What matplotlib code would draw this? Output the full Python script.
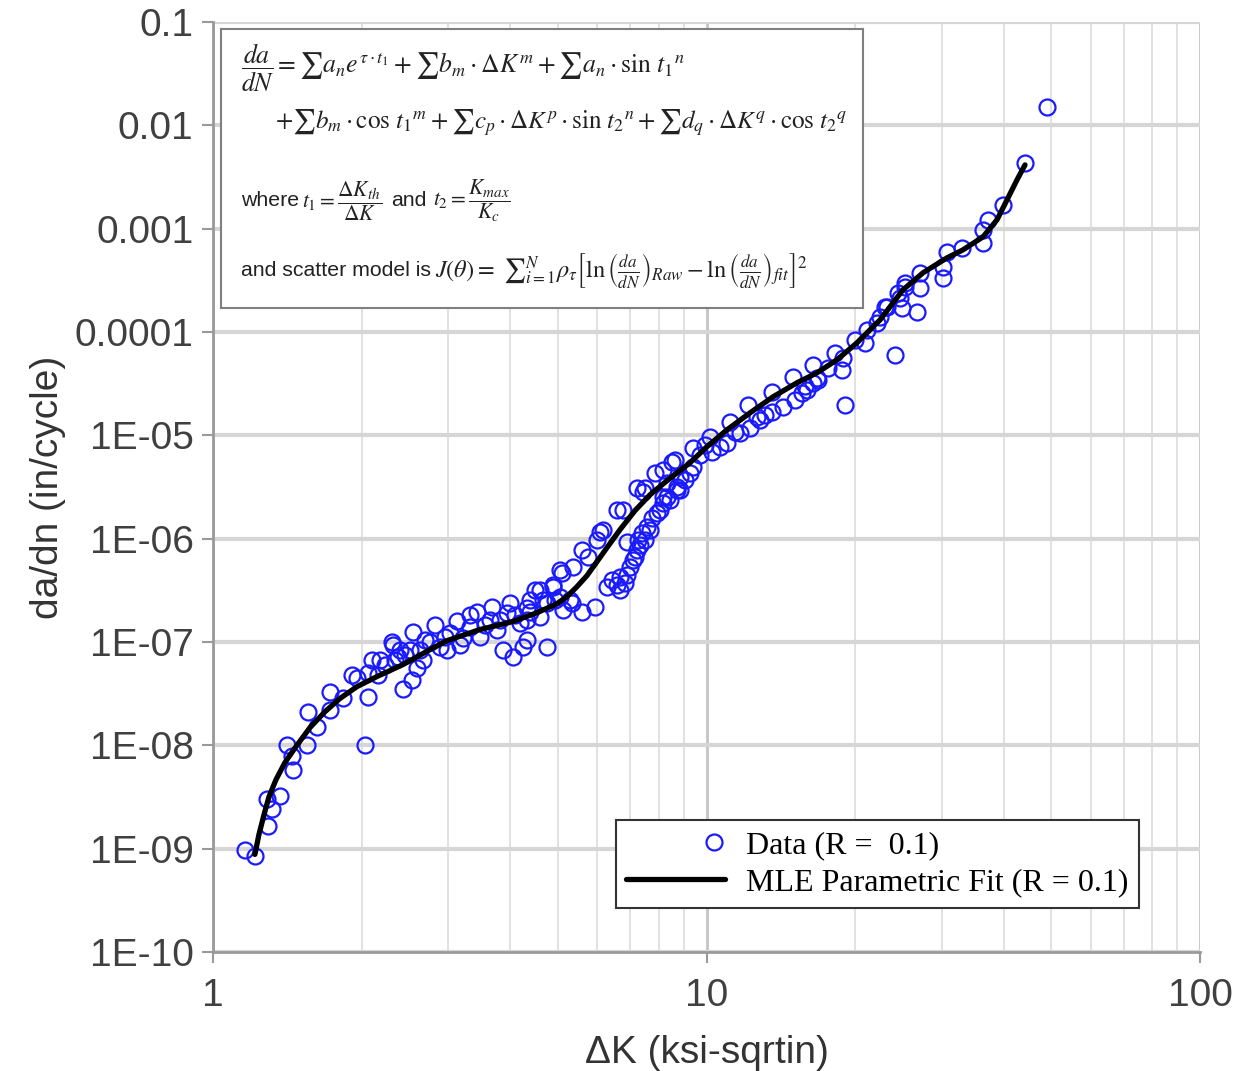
import matplotlib
matplotlib.use('Agg')
import matplotlib.pyplot as plt
from matplotlib.ticker import LogLocator, NullLocator, FixedLocator
from matplotlib.legend_handler import HandlerLine2D
from matplotlib.lines import Line2D

plt.rcParams['font.family'] = ['Liberation Sans', 'DejaVu Sans']
plt.rcParams['mathtext.fontset'] = 'stix'

# measured crack growth data (delta K in ksi-sqrtin, da/dN in in/cycle)
dk = [1.161, 1.216, 1.286, 1.367, 1.317, 1.292, 1.412, 1.550, 1.453, 1.446,
      1.557, 1.624, 1.726, 1.726, 1.834, 1.912, 1.958, 2.032, 2.061, 2.100,
      2.061, 2.159, 2.316, 2.427, 2.531, 2.590, 2.371, 2.507, 2.306, 2.543,
      2.818, 3.122, 3.428, 3.675, 3.998, 4.492, 4.887, 5.095, 3.869, 4.054,
      4.248, 4.328, 4.751, 2.393, 2.664, 2.979, 3.211, 3.475, 3.762, 4.189,
      4.598, 5.119, 5.339, 2.753, 3.021, 3.317, 3.641, 3.942, 4.328, 4.663,
      2.627, 2.884, 2.179, 2.689, 2.952, 3.166, 3.557, 3.815, 4.093, 4.389,
      4.932, 3.317, 2.449, 2.338, 2.231, 4.328, 4.598, 4.887, 5.048, 5.363,
      5.593, 5.752, 5.999, 6.169, 6.585, 6.772, 7.231, 7.435, 7.864, 8.163,
      8.514, 5.943, 5.593, 5.289, 6.285, 6.585, 6.678, 6.899, 6.998, 7.097,
      7.231, 7.264, 6.899, 7.401, 7.575, 7.755, 7.938, 8.163, 8.318, 8.714,
      9.046, 9.260, 4.751, 5.048, 4.389, 6.678, 6.433, 6.838, 7.164, 7.333,
      7.505, 7.683, 8.052, 8.433, 8.838, 6.083, 8.634, 9.389, 10.16, 11.16,
      12.14, 7.505, 13.57, 14.97, 8.318, 8.838, 9.389, 10.26, 11.00, 11.69,
      12.25, 12.84, 13.57, 14.29, 15.11, 15.98, 16.44, 8.163, 8.714, 10.65,
      12.66, 9.701, 9.931, 11.42, 13.14, 15.62, 16.44, 16.83, 17.63, 18.22,
      18.82, 19.08, 18.91, 20.00, 20.95, 21.14, 22.16, 22.47, 23.21, 24.10,
      24.66, 24.89, 25.25, 25.25, 27.08, 26.70, 27.08, 30.14, 30.14, 30.71,
      15.84, 16.75, 22.99, 24.43, 48.98, 44.20, 39.89, 37.19, 36.34, 36.34,
      32.94]
dadn = [9.8e-10, 8.4e-10, 3.0e-9, 3.2e-9, 2.4e-9, 1.64e-9, 1.0e-8, 1.0e-8, 5.8e-9, 7.8e-9,
        2.12e-8, 1.49e-8, 2.22e-8, 3.31e-8, 2.9e-8, 4.84e-8, 4.53e-8, 1.0e-8, 2.96e-8, 6.76e-8,
        5.06e-8, 4.84e-8, 9.44e-8, 3.47e-8, 4.33e-8, 5.65e-8, 7.22e-8, 8.44e-8, 1.01e-7, 1.26e-7,
        1.47e-7, 1.58e-7, 1.97e-7, 2.20e-7, 2.40e-7, 3.21e-7, 3.43e-7, 4.69e-7, 8.44e-8, 7.22e-8,
        9.03e-8, 1.05e-7, 9.03e-8, 8.44e-8, 6.76e-8, 8.44e-8, 1.10e-7, 1.13e-7, 1.32e-7, 1.54e-7,
        1.76e-7, 2.06e-7, 2.40e-7, 1.01e-7, 1.23e-7, 1.41e-7, 1.65e-7, 1.92e-7, 2.15e-7, 2.57e-7,
        8.44e-8, 9.03e-8, 6.76e-8, 1.05e-7, 1.13e-7, 9.44e-8, 1.47e-7, 1.65e-7, 1.84e-7, 1.97e-7,
        2.57e-7, 1.84e-7, 7.55e-8, 6.76e-8, 6.05e-8, 1.65e-7, 3.21e-7, 3.59e-7, 5.01e-7, 5.36e-7,
        7.83e-7, 6.70e-7, 9.78e-7, 1.22e-6, 1.91e-6, 1.91e-6, 3.11e-6, 2.85e-6, 4.35e-6, 4.65e-6,
        5.56e-6, 2.20e-7, 1.97e-7, 2.57e-7, 3.43e-7, 3.59e-7, 4.29e-7, 4.49e-7, 5.36e-7, 6.26e-7,
        7.83e-7, 9.78e-7, 9.35e-7, 1.14e-6, 1.31e-6, 1.60e-6, 1.78e-6, 2.23e-6, 2.55e-6, 3.18e-6,
        3.72e-6, 4.35e-6, 2.40e-7, 2.75e-7, 2.57e-7, 3.21e-7, 4.01e-7, 3.75e-7, 6.70e-7, 8.75e-7,
        9.78e-7, 1.22e-6, 1.91e-6, 2.38e-6, 2.98e-6, 1.17e-6, 5.81e-6, 7.59e-6, 9.69e-6, 1.35e-5,
        1.98e-5, 3.11e-6, 2.64e-5, 3.69e-5, 3.48e-6, 3.98e-6, 4.97e-6, 6.94e-6, 8.48e-6, 1.06e-5,
        1.18e-5, 1.42e-5, 1.69e-5, 1.89e-5, 2.21e-5, 2.76e-5, 3.23e-5, 2.55e-6, 2.98e-6, 7.76e-6,
        1.51e-5, 6.49e-6, 8.11e-6, 1.08e-5, 1.58e-5, 2.58e-5, 4.82e-5, 3.45e-5, 4.51e-5, 6.29e-5,
        4.31e-5, 1.98e-5, 5.63e-5, 8.41e-5, 7.86e-5, 1.05e-4, 1.23e-4, 1.40e-4, 1.75e-4, 6.02e-5,
        2.14e-4, 1.71e-4, 2.74e-4, 2.99e-4, 2.68e-4, 1.57e-4, 3.74e-4, 4.27e-4, 3.34e-4, 5.97e-4,
        3.02e-5, 3.61e-5, 1.75e-4, 2.39e-4, 1.51e-2, 4.33e-3, 1.70e-3, 1.22e-3, 9.74e-4, 7.29e-4,
        6.52e-4]

# MLE parametric fit curve
fit_dk = [1.216, 1.239, 1.269, 1.299, 1.342, 1.399, 1.473, 1.573, 1.687, 1.808,
          1.958, 2.149, 2.427, 2.753, 2.979, 3.475, 4.054, 4.534, 4.979, 5.215,
          5.464, 5.725, 5.999, 6.285, 6.678, 7.164, 7.683, 8.318, 9.260, 10.02,
          11.00, 12.25, 13.64, 15.26, 16.75, 18.38, 20.18, 22.47, 25.01, 27.46,
          30.71, 33.10, 36.34, 38.79, 40.64, 42.58, 44.20]
fit_dadn = [8.8e-10, 1.37e-9, 2.14e-9, 3.20e-9, 4.67e-9, 6.82e-9, 9.74e-9, 1.49e-8, 2.12e-8, 2.84e-8,
            3.70e-8, 4.63e-8, 6.05e-8, 8.44e-8, 1.03e-7, 1.32e-7, 1.58e-7, 1.92e-7, 2.35e-7, 2.75e-7,
            3.43e-7, 4.39e-7, 5.99e-7, 8.18e-7, 1.22e-6, 1.87e-6, 2.66e-6, 3.64e-6, 5.43e-6, 7.76e-6,
            1.13e-5, 1.65e-5, 2.36e-5, 3.23e-5, 4.03e-5, 5.38e-5, 7.86e-5, 1.31e-4, 2.56e-4, 3.74e-4,
            5.22e-4, 6.24e-4, 8.33e-4, 1.22e-3, 1.90e-3, 2.97e-3, 4.14e-3]

y_ticks = [1e-10, 1e-9, 1e-8, 1e-7, 1e-6, 1e-5, 1e-4, 1e-3, 1e-2, 1e-1]
y_tick_labels = ['1E-10', '1E-09', '1E-08', '1E-07', '1E-06', '1E-05',
                 '0.0001', '0.001', '0.01', '0.1']
x_ticks = [1, 10, 100]
x_tick_labels = ['1', '10', '100']


class RightMarkerHandler(HandlerLine2D):
    # single marker near the right end of the handle, like the original legend
    def create_artists(self, legend, orig_handle, xdescent, ydescent,
                       width, height, fontsize, trans):
        mk = Line2D([-xdescent + 0.89 * width], [(height - ydescent) / 2])
        self.update_prop(mk, orig_handle, legend)
        mk.set_linestyle('none')
        mk.set_transform(trans)
        return [mk]


W, H = 1258, 1071
fig = plt.figure(figsize=(W / 100, H / 100), dpi=100)
ax = fig.add_axes([213 / W, 1 - 952 / H, 987 / W, 930 / H])
ax.set_xscale('log')
ax.set_yscale('log')
ax.set_xlim(1, 100)
ax.set_ylim(1e-10, 0.1)

ax.xaxis.set_major_locator(FixedLocator(x_ticks))
ax.set_xticklabels(x_tick_labels)
ax.xaxis.set_minor_locator(LogLocator(base=10, subs=[2, 3, 4, 5, 6, 7, 8, 9]))
ax.yaxis.set_major_locator(FixedLocator(y_ticks))
ax.set_yticklabels(y_tick_labels)
ax.yaxis.set_minor_locator(NullLocator())

ax.tick_params(axis='both', which='major', length=8, width=1.5, color='#999999',
               labelsize=28, labelcolor='#404040')
ax.tick_params(axis='x', which='major', pad=11)
ax.tick_params(axis='y', which='major', pad=6)
ax.tick_params(axis='x', which='minor', length=0)

ax.xaxis.grid(True, which='major', color='#c4c4c4', lw=2)
ax.xaxis.grid(True, which='minor', color='#dcdcdc', lw=1.2)
ax.yaxis.grid(True, which='major', color='#d6d6d6', lw=3)
ax.set_axisbelow(True)

for s in ['top', 'right']:
    ax.spines[s].set_visible(False)
for s in ['left', 'bottom']:
    ax.spines[s].set_color('#9a9a9a')
    ax.spines[s].set_linewidth(2)

data_line, = ax.plot(dk, dadn, 'o', mfc='none', mec='#1a1aff', ms=11.5, mew=1.6,
                     label='Data (R =  0.1)', zorder=3)
ax.plot(fit_dk, fit_dadn, color='black', lw=3.8, solid_capstyle='round',
        solid_joinstyle='round', label='MLE Parametric Fit (R = 0.1)', zorder=4)

ax.set_xlabel('ΔK (ksi-sqrtin)', fontsize=28, color='#333333', labelpad=15)
ax.set_ylabel('da/dn (in/cycle)', fontsize=28, color='#333333', labelpad=6)

leg = ax.legend(loc='lower right', bbox_to_anchor=((1139 - 213) / 987, (952 - 908) / 930),
                prop={'family': 'Liberation Serif', 'size': 23}, frameon=True,
                fancybox=False, edgecolor='#333333', framealpha=1, borderaxespad=0,
                handlelength=3.1, handletextpad=0.65, labelspacing=0.25, borderpad=0.33,
                handler_map={data_line: RightMarkerHandler()})
leg.get_frame().set_linewidth(1.5)

# equation box
eq = fig.add_axes([221 / W, 1 - 308 / H, 642 / W, 279 / H])
eq.set_xticks([])
eq.set_yticks([])
eq.set_facecolor('white')
for s in eq.spines.values():
    s.set_color('#808080')
    s.set_linewidth(1.5)

line1 = (r'$\dfrac{da}{dN} = \sum a_n e^{\tau \cdot t_1} + \sum b_m \cdot \Delta K^m'
         r' + \sum a_n \cdot \sin\, {t_1}^n$')
line2 = (r'$+\sum b_m \cdot \cos\, {t_1}^m + \sum c_p \cdot \Delta K^p \cdot \sin\, {t_2}^n'
         r' + \sum d_q \cdot \Delta K^q \cdot \cos\, {t_2}^q$')
line4_math = (r'$J(\theta) =\ {\sum}_{i=1}^{N} \rho_\tau \left[\ln\left(\frac{da}{dN}\right)_{Raw}'
              r' - \ln\left(\frac{da}{dN}\right)_{fit}\right]^2$')

fig.text(241 / W, 1 - 68 / H, line1, ha='left', va='center', fontsize=18.5, color='#222222')
fig.text(275 / W, 1 - 123 / H, line2, ha='left', va='center', fontsize=18.1, color='#222222')

fig.text(241 / W, 1 - 201 / H, 'where', ha='left', va='center', fontsize=15.3, color='#222222')
fig.text(302 / W, 1 - 201 / H, r'$t_1 = \dfrac{\Delta K_{th}}{\Delta K}$', ha='left', va='center',
         fontsize=15.5, color='#222222')
fig.text(391 / W, 1 - 201 / H, 'and', ha='left', va='center', fontsize=15.3, color='#222222')
fig.text(433 / W, 1 - 201 / H, r'$t_2 = \dfrac{K_{max}}{K_c}$', ha='left', va='center',
         fontsize=15.5, color='#222222')

fig.text(241 / W, 1 - 270 / H, 'and scatter model is', ha='left', va='center', fontsize=15.3,
         color='#222222')
fig.text(435 / W, 1 - 270 / H, line4_math, ha='left', va='center', fontsize=17.5, color='#222222')

fig.savefig('out.png', dpi=100, facecolor='white')
